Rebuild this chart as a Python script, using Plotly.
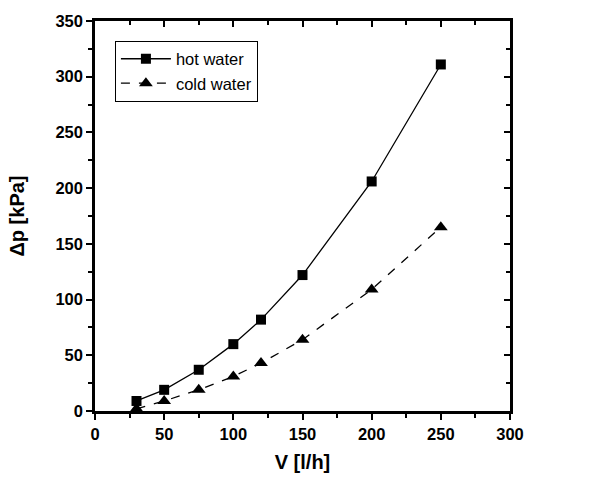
import plotly.graph_objects as go

flow = [30, 50, 75, 100, 120, 150, 200, 250]
hot_dp = [9, 19, 37, 60, 82, 122, 206, 311]
cold_dp = [2, 9, 19, 31, 43, 64, 109, 165]

x_ticks = [0, 50, 100, 150, 200, 250, 300]
y_ticks = [0, 50, 100, 150, 200, 250, 300, 350]

FONT = "Liberation Sans, Arial, sans-serif"

fig = go.Figure()
fig.add_trace(go.Scatter(x=flow, y=hot_dp, mode="lines+markers", name="hot water",
                         line=dict(color="black", width=1.3, dash="solid"),
                         marker=dict(symbol="square", size=10, color="black")))
fig.add_trace(go.Scatter(x=flow, y=cold_dp, mode="lines+markers", name="cold water",
                         line=dict(color="black", width=1.3, dash="dash"),
                         marker=dict(symbol="triangle-up", size=12, color="black")))
# invisible trace for top/right axes
fig.add_trace(go.Scatter(x=[0], y=[0], xaxis="x2", yaxis="y2", mode="markers",
                         marker=dict(opacity=0), showlegend=False, hoverinfo="skip"))

axis_common = dict(showgrid=False, zeroline=False, showline=True, linecolor="black",
                   linewidth=2.5, tickcolor="black", tickwidth=2, ticklen=6)
minor_out = dict(dtick=25, ticks="outside", ticklen=4, tickwidth=2, tickcolor="black")
minor_in = dict(dtick=25, ticks="inside", ticklen=4, tickwidth=2, tickcolor="black")

fig.update_layout(
    width=602, height=483,
    margin=dict(l=95, r=92, t=14, b=72),
    paper_bgcolor="white", plot_bgcolor="white",
    font=dict(family=FONT, color="black"),
    xaxis=dict(range=[0, 300], tickvals=x_ticks,
               ticktext=[f"<b>{v}</b>" for v in x_ticks], ticks="outside",
               tickfont=dict(size=16.5, family=FONT, weight=700),
               title=dict(text="<b>V [l/h]</b>", font=dict(size=20), standoff=14),
               minor=minor_out, **axis_common),
    yaxis=dict(range=[0, 350], tickvals=y_ticks,
               ticktext=[f"<b>{v}</b>" for v in y_ticks], ticks="outside",
               tickfont=dict(size=16.5, family=FONT, weight=700),
               title=dict(text="<b>Δp [kPa]</b>", font=dict(size=20), standoff=26),
               minor=minor_out, **axis_common),
    xaxis2=dict(range=[0, 300], overlaying="x", side="top", tickvals=x_ticks, ticks="inside",
                showticklabels=False, minor=minor_in, **axis_common),
    yaxis2=dict(range=[0, 350], overlaying="y", side="right", tickvals=y_ticks, ticks="inside",
                showticklabels=False, minor=minor_in, **axis_common),
    legend=dict(x=0.048, y=0.950, xanchor="left", yanchor="top",
                bordercolor="black", borderwidth=1, bgcolor="white",
                font=dict(size=16.5, family=FONT), tracegroupgap=0,
                itemwidth=50),
    showlegend=True,
)

fig.write_html("out.html")
